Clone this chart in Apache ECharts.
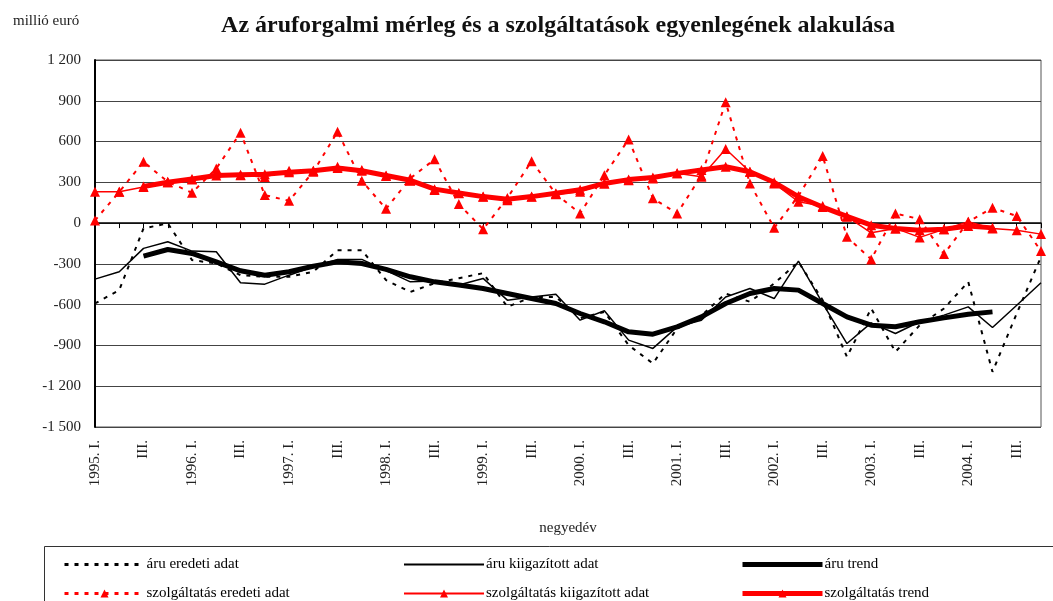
<!DOCTYPE html>
<html>
<head>
<meta charset="utf-8">
<script src="https://cdn.jsdelivr.net/npm/echarts@6/dist/echarts.min.js"></script>
<style>
  html, body { margin: 0; padding: 0; background: #fff; }
  #chart { width: 1053px; height: 601px; }
</style>
</head>
<body>
<div id="chart"></div>
<script>
// negyedévek
const years = ['1995', '1996', '1997', '1998', '1999', '2000', '2001', '2002', '2003', '2004']
const quarterNames = ['I.', 'II.', 'III.', 'IV.']
const quarters = []
years.forEach(function (y) {
  quarterNames.forEach(function (q, k) {
    quarters.push(k === 0 ? y + '. ' + q : q)
  })
})

const yTicks = [-1500, 1200, 300] // min, max, lépés

// áru (millió euró)
const aruEredeti = [-591, -493, -39, -2, -272, -297, -383, -395, -395, -358, -199, -199, -420, -506, -442, -405, -368, -616, -545, -543,
  -700, -653, -898, -1033, -775, -680, -518, -579, -444, -285, -567, -984, -628, -947, -751, -628, -432, -1094, -665, -248]
const aruKiigazitott = [-412, -358, -186, -137, -206, -211, -439, -449, -383, -321, -267, -267, -350, -432, -425, -456, -407, -567, -543, -523,
  -714, -645, -861, -922, -763, -714, -543, -481, -555, -280, -591, -886, -734, -812, -726, -677, -616, -768, -604, -439]
const aruTrend = [null, null, -243, -194, -223, -285, -351, -383, -358, -317, -285, -297, -340, -395, -432, -456, -481, -518, -555, -591,
  -665, -726, -800, -817, -763, -690, -591, -518, -481, -493, -591, -690, -751, -763, -726, -697, -670, -653, null, null]

// szolgáltatás (millió euró)
const szolgEredeti = [20, 230, 451, 304, 223, 402, 665, 206, 164, 378, 672, 311, 105, 330, 469, 140, -45, 185, 456, 215,
  71, 353, 616, 182, 71, 350, 889, 292, -35, 200, 493, -101, -267, 71, 29, -228, 10, 113, 52, -206]
const szolgKiigazitott = [230, 230, 265, 300, 320, 366, 353, 340, 385, 385, 415, 390, 346, 311, 243, 219, 194, 169, 194, 213,
  230, 292, 316, 329, 366, 341, 545, 378, 292, 157, 125, 47, -71, -39, -105, -46, 10, -39, -52, -81]
const szolgTrend = [null, null, 270, 300, 325, 350, 355, 360, 375, 385, 405, 385, 350, 315, 250, 222, 195, 175, 195, 220,
  245, 292, 320, 335, 366, 390, 415, 378, 300, 194, 118, 50, -15, -39, -52, -45, -22, -35, null, null]

const serif = '"Liberation Serif", "DejaVu Serif", serif'
const RED = '#ff0000'

function legendAt(name, left, top, lineW, noSymbol) {
  return {
    data: [name], left: left, top: top, itemWidth: 80, itemHeight: 10, itemGap: 4,
    lineStyle: { width: lineW },
    itemStyle: noSymbol ? { opacity: 0 } : {},
    textStyle: { fontFamily: serif, fontSize: 15, color: '#000', padding: [0, 0, 0, -3] }
  }
}

const myChart = echarts.init(document.getElementById('chart'))
myChart.setOption({
  animation: false,
  backgroundColor: '#fff',
  title: [{
    text: 'Az áruforgalmi mérleg és a szolgáltatások egyenlegének alakulása',
    left: 553, top: 9, textAlign: 'center',
    textStyle: { fontFamily: serif, fontSize: 24, fontWeight: 'bold', color: '#111' }
  }, {
    text: 'millió euró',
    left: 8, top: 9,
    textStyle: { fontFamily: serif, fontSize: 15, fontWeight: 'normal', color: '#222' }
  }],
  legend: [
    legendAt('áru eredeti adat', 58, 552, 3, true),
    legendAt('áru kiigazított adat', 398, 552, 2, true),
    legendAt('áru trend', 735, 552, 5, true),
    legendAt('szolgáltatás eredeti adat', 58, 581, 3, false),
    legendAt('szolgáltatás kiigazított adat', 398, 581, 2, false),
    legendAt('szolgáltatás trend', 735, 581, 5, false)
  ],
  graphic: [{
    type: 'rect', left: 42, top: 544,
    shape: { width: 1020, height: 70 },
    style: { fill: 'none', stroke: '#333', lineWidth: 1 }
  }],
  grid: {
    left: 95, right: 12, top: 60, bottom: 174,
    show: true, borderColor: '#555', borderWidth: 1
  },
  xAxis: [{
    type: 'category', data: quarters, boundaryGap: false,
    axisLine: { onZero: true, lineStyle: { color: '#000', width: 1.5 } },
    axisTick: { show: true, interval: 0, length: 5, lineStyle: { color: '#000' } },
    axisLabel: { show: false },
    splitLine: { show: false }
  }, {
    type: 'category', data: quarters, boundaryGap: false, position: 'bottom',
    axisLine: { show: false, onZero: false },
    axisTick: { show: false },
    axisLabel: { interval: 1, rotate: 90, margin: 13, fontFamily: serif, fontSize: 15, color: '#222' },
    name: 'negyedév', nameLocation: 'middle', nameGap: 94,
    nameTextStyle: { fontFamily: serif, fontSize: 15, color: '#222' }
  }],
  yAxis: {
    type: 'value', min: yTicks[0], max: yTicks[1], interval: yTicks[2],
    axisLine: { show: true, lineStyle: { color: '#000', width: 2 } },
    axisTick: { show: false },
    axisLabel: {
      margin: 14, fontFamily: serif, fontSize: 15, color: '#222',
      formatter: function (v) { return String(v).replace(/(\d)(\d{3})$/, '$1 $2') }
    },
    splitLine: { lineStyle: { color: '#444', width: 1 } }
  },
  series: [{
    name: 'áru eredeti adat', type: 'line', data: aruEredeti, symbol: 'none',
    lineStyle: { color: '#000', width: 2, type: [4, 6] }, itemStyle: { color: '#000' }
  }, {
    name: 'áru kiigazított adat', type: 'line', data: aruKiigazitott, symbol: 'none',
    lineStyle: { color: '#000', width: 1.5 }, itemStyle: { color: '#000' }
  }, {
    name: 'áru trend', type: 'line', data: aruTrend, symbol: 'none',
    lineStyle: { color: '#000', width: 5 }, itemStyle: { color: '#000' }
  }, {
    name: 'szolgáltatás eredeti adat', type: 'line', data: szolgEredeti,
    symbol: 'triangle', symbolSize: 10,
    lineStyle: { color: RED, width: 2, type: [4, 6] }, itemStyle: { color: RED }
  }, {
    name: 'szolgáltatás kiigazított adat', type: 'line', data: szolgKiigazitott,
    symbol: 'triangle', symbolSize: 10,
    lineStyle: { color: RED, width: 1.5 }, itemStyle: { color: RED }
  }, {
    name: 'szolgáltatás trend', type: 'line', data: szolgTrend,
    symbol: 'triangle', symbolSize: 10,
    lineStyle: { color: RED, width: 5 }, itemStyle: { color: RED }
  }]
})
</script>
</body>
</html>
